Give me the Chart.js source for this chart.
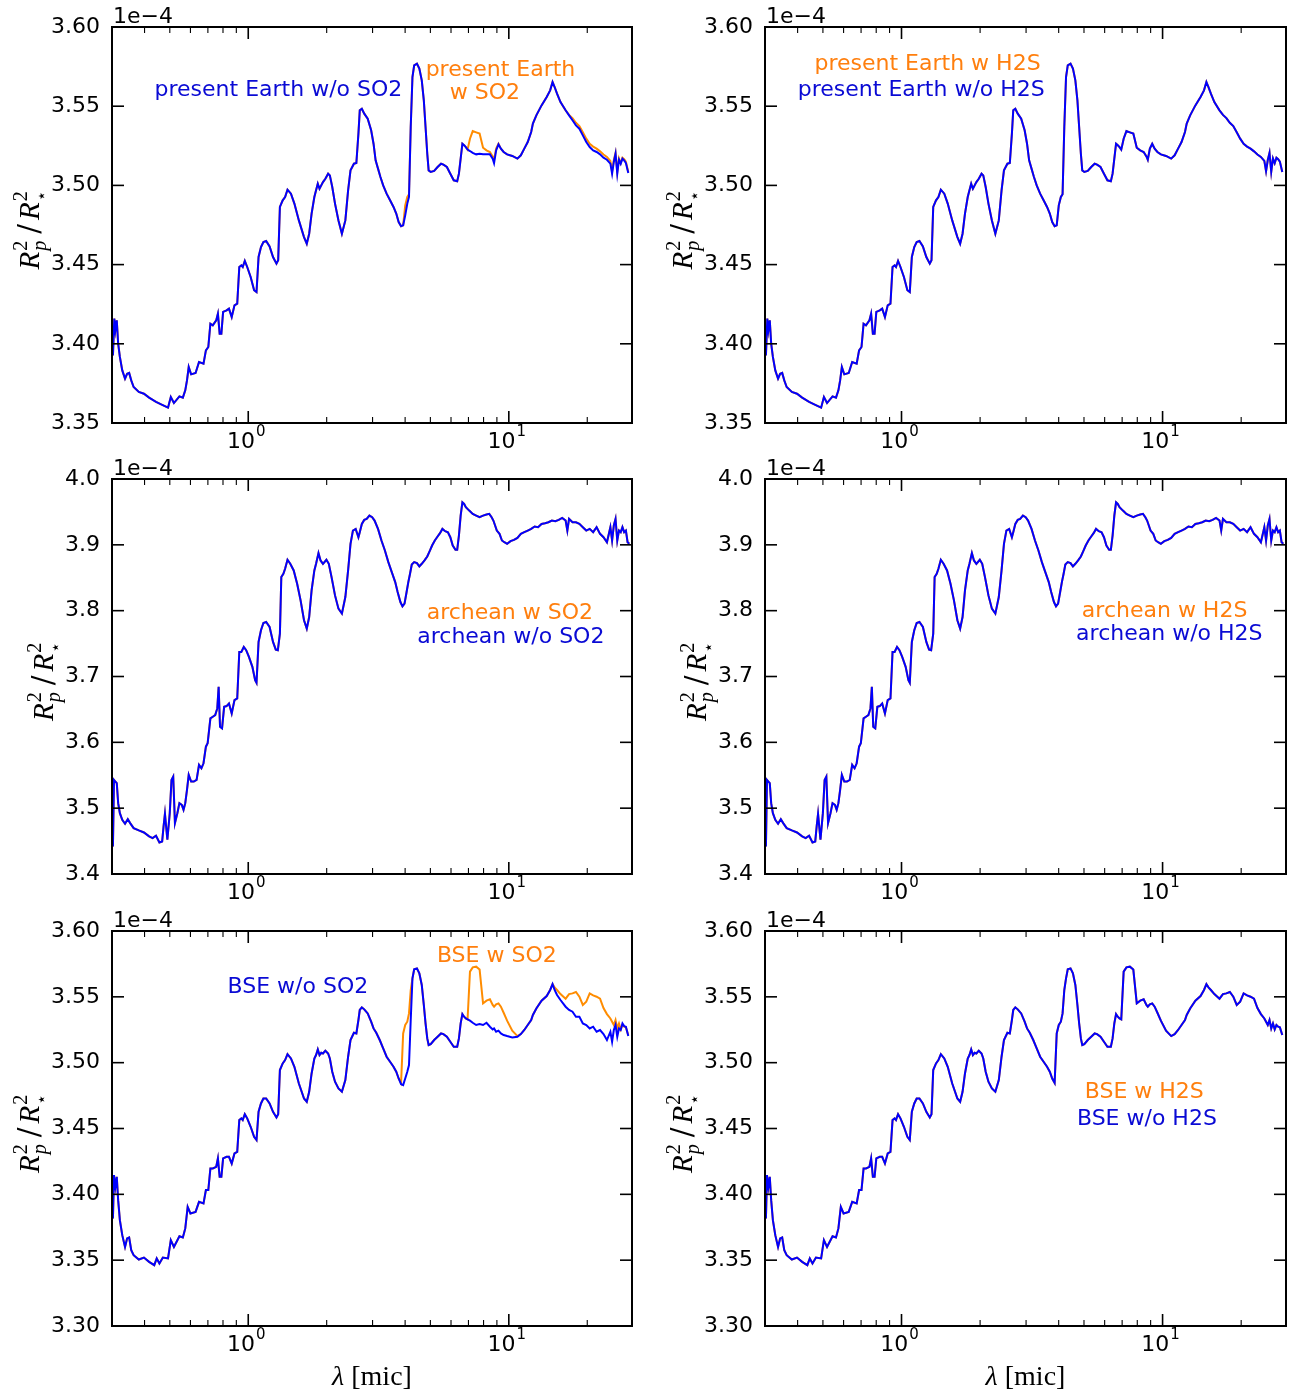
<!DOCTYPE html>
<html>
<head>
<meta charset="utf-8">
<script src="https://cdn.jsdelivr.net/npm/chart.js@4.4.1/dist/chart.umd.min.js"></script>
<style>
  html, body { margin: 0; padding: 0; background: #fff; }
  #fig { position: relative; width: 1295px; height: 1391px; overflow: hidden; background: #fff; }
  #fig canvas { position: absolute; }
</style>
</head>
<body>
<div id="fig"></div>
<script>
// all depths in units of 1e-4 (R_p^2 / R_star^2), wavelengths in micron

// ---- present Earth ----
const wlEarth = [
  0.3025, 0.3062, 0.3091, 0.3129, 0.3168, 0.3216, 0.3285, 0.3366, 0.3428, 0.3491,
  0.3556, 0.3632, 0.3802, 0.3978, 0.4164, 0.4426, 0.4631, 0.4922, 0.5044, 0.5185,
  0.5443, 0.5611, 0.5732, 0.5820, 0.5909, 0.6036, 0.6279, 0.6473, 0.6734, 0.6879,
  0.7027, 0.7157, 0.7310, 0.7536, 0.7649, 0.7767, 0.7886, 0.8008, 0.8257, 0.8434,
  0.8641, 0.8855, 0.9072, 0.9240, 0.9410, 0.9525, 0.9700, 0.9909, 1.0215, 1.0531,
  1.0758, 1.0955, 1.1191, 1.1432, 1.1714, 1.2076, 1.2448, 1.2832, 1.3028, 1.3228,
  1.3558, 1.3849, 1.4146, 1.4584, 1.5034, 1.5641, 1.6369, 1.6773, 1.7133, 1.7504,
  1.7934, 1.8209, 1.8489, 1.8772, 1.9061, 1.9354, 1.9769, 2.0257, 2.0567, 2.1009,
  2.1528, 2.2193, 2.2879, 2.3586, 2.4168, 2.4686, 2.5448, 2.5997, 2.6476, 2.6792,
  2.7286, 2.7875, 2.8737, 2.9624, 3.0259, 3.0819, 3.1480, 3.2159, 3.2948, 3.3963,
  3.5016, 3.6098, 3.6983, 3.7781, 3.8594, 3.9310, 4.0034, 4.0772, 4.1396, 4.2030,
  4.2676, 4.3333, 4.4402, 4.5354, 4.6335, 4.7187, 4.7911, 4.8646, 4.9243, 5.0147,
  5.1696, 5.3292, 5.4936, 5.6118, 5.7850, 5.9636, 6.1476, 6.3373, 6.4349, 6.5339,
  6.6345, 6.7366, 6.8403, 6.9456, 7.0946, 7.2696, 7.4941, 7.7254, 7.9638, 8.2096,
  8.4630, 8.6718, 8.7782, 8.9393, 9.1276, 9.3243, 9.5545, 9.8493, 10.309, 10.789,
  11.122, 11.466, 11.820, 12.185, 12.372, 12.754, 13.354, 13.977, 14.409, 14.719,
  14.990, 15.313, 15.787, 16.520, 17.030, 17.556, 18.098, 18.657, 19.233, 19.826,
  20.438, 21.069, 21.724, 22.395, 23.086, 23.800, 24.534, 24.910, 25.293, 25.680,
  26.074, 26.475, 26.882, 27.295, 27.714, 28.140, 28.742
];
const earthNoSO2 = [
  3.3927, 3.4159, 3.4085, 3.4148, 3.4001, 3.3917, 3.3832, 3.3780, 3.3811, 3.3816,
  3.3769, 3.3727, 3.3696, 3.3685, 3.3660, 3.3633, 3.3618, 3.3597, 3.3664, 3.3626,
  3.3668, 3.3660, 3.3706, 3.3769, 3.3853, 3.3807, 3.3816, 3.3885, 3.3875, 3.3959,
  3.3980, 3.4127, 3.4117, 3.4148, 3.4190, 3.4064, 3.4064, 3.4201, 3.4211, 3.4222,
  3.4169, 3.4243, 3.4253, 3.4485, 3.4495, 3.4485, 3.4523, 3.4485, 3.4422, 3.4338,
  3.4327, 3.4548, 3.4611, 3.4643, 3.4649, 3.4615, 3.4548, 3.4506, 3.4527, 3.4864,
  3.4906, 3.4927, 3.4973, 3.4948, 3.4885, 3.4779, 3.4674, 3.4632, 3.4695, 3.4822,
  3.4927, 3.4969, 3.5011, 3.4979, 3.5000, 3.5021, 3.5042, 3.5074, 3.5063, 3.4990,
  3.4885, 3.4779, 3.4695, 3.4779, 3.4969, 3.5095, 3.5137, 3.5141, 3.5327, 3.5474,
  3.5484, 3.5453, 3.5421, 3.5348, 3.5263, 3.5158, 3.5106, 3.5053, 3.5000, 3.4948,
  3.4906, 3.4864, 3.4822, 3.4769, 3.4742, 3.4748, 3.4811, 3.4885, 3.4927, 3.5369,
  3.5684, 3.5758, 3.5769, 3.5737, 3.5663, 3.5537, 3.5369, 3.5200, 3.5095, 3.5085,
  3.5091, 3.5116, 3.5137, 3.5131, 3.5116, 3.5074, 3.5032, 3.5026, 3.5074, 3.5169,
  3.5263, 3.5253, 3.5242, 3.5226, 3.5217, 3.5205, 3.5196, 3.5200, 3.5196, 3.5196,
  3.5196, 3.5169, 3.5141, 3.5221, 3.5259, 3.5232, 3.5211, 3.5196, 3.5186, 3.5169,
  3.5190, 3.5232, 3.5274, 3.5337, 3.5390, 3.5442, 3.5505, 3.5558, 3.5600, 3.5653,
  3.5621, 3.5579, 3.5526, 3.5474, 3.5442, 3.5411, 3.5379, 3.5358, 3.5316, 3.5274,
  3.5242, 3.5221, 3.5211, 3.5196, 3.5175, 3.5162, 3.5137, 3.5074, 3.5148, 3.5200,
  3.5074, 3.5162, 3.5137, 3.5169, 3.5158, 3.5141, 3.5078
];
// with SO2 (this is also the "w/o H2S" reference of the right panel)
const earthSO2 = [
  3.3927, 3.4159, 3.4085, 3.4148, 3.4001, 3.3917, 3.3832, 3.3780, 3.3811, 3.3816,
  3.3769, 3.3727, 3.3696, 3.3685, 3.3660, 3.3633, 3.3618, 3.3597, 3.3664, 3.3626,
  3.3668, 3.3660, 3.3706, 3.3769, 3.3853, 3.3807, 3.3816, 3.3885, 3.3875, 3.3959,
  3.3980, 3.4127, 3.4117, 3.4148, 3.4190, 3.4064, 3.4064, 3.4201, 3.4211, 3.4222,
  3.4169, 3.4243, 3.4253, 3.4485, 3.4495, 3.4485, 3.4523, 3.4485, 3.4422, 3.4338,
  3.4327, 3.4548, 3.4611, 3.4643, 3.4649, 3.4615, 3.4548, 3.4506, 3.4527, 3.4864,
  3.4906, 3.4927, 3.4973, 3.4948, 3.4885, 3.4779, 3.4674, 3.4632, 3.4695, 3.4822,
  3.4927, 3.4969, 3.5011, 3.4979, 3.5000, 3.5021, 3.5042, 3.5074, 3.5063, 3.4990,
  3.4885, 3.4779, 3.4695, 3.4779, 3.4969, 3.5095, 3.5137, 3.5141, 3.5327, 3.5474,
  3.5484, 3.5453, 3.5421, 3.5348, 3.5263, 3.5158, 3.5106, 3.5053, 3.5000, 3.4948,
  3.4906, 3.4864, 3.4822, 3.4769, 3.4742, 3.4748, 3.4874, 3.4927, 3.4944, 3.5369,
  3.5684, 3.5758, 3.5769, 3.5737, 3.5663, 3.5537, 3.5369, 3.5200, 3.5095, 3.5085,
  3.5091, 3.5116, 3.5137, 3.5131, 3.5116, 3.5074, 3.5032, 3.5026, 3.5074, 3.5169,
  3.5263, 3.5253, 3.5242, 3.5226, 3.5295, 3.5343, 3.5335, 3.5327, 3.5238, 3.5221,
  3.5211, 3.5183, 3.5162, 3.5232, 3.5263, 3.5232, 3.5211, 3.5196, 3.5186, 3.5169,
  3.5190, 3.5232, 3.5274, 3.5337, 3.5390, 3.5442, 3.5505, 3.5558, 3.5600, 3.5653,
  3.5621, 3.5579, 3.5526, 3.5474, 3.5445, 3.5425, 3.5395, 3.5375, 3.5335, 3.5295,
  3.5262, 3.5245, 3.5232, 3.5215, 3.5195, 3.5180, 3.5155, 3.5090, 3.5160, 3.5205,
  3.5085, 3.5170, 3.5140, 3.5175, 3.5165, 3.5150, 3.5085
];

// ---- archean (with and without sulfur species overlap completely) ----
const wlArchean = [
  0.3025, 0.3053, 0.3091, 0.3129, 0.3168, 0.3216, 0.3285, 0.3366, 0.3449, 0.3522,
  0.3632, 0.3802, 0.3978, 0.4164, 0.4294, 0.4426, 0.4561, 0.4673, 0.4732, 0.4790,
  0.4893, 0.4998, 0.5075, 0.5153, 0.5232, 0.5345, 0.5443, 0.5559, 0.5645, 0.5732,
  0.5820, 0.5909, 0.6036, 0.6183, 0.6335, 0.6473, 0.6611, 0.6734, 0.6879, 0.6985,
  0.7157, 0.7310, 0.7468, 0.7605, 0.7698, 0.7793, 0.7934, 0.8081, 0.8257, 0.8434,
  0.8641, 0.8855, 0.9072, 0.9240, 0.9410, 0.9612, 0.9819, 1.0061, 1.0372, 1.0627,
  1.0758, 1.0955, 1.1191, 1.1432, 1.1714, 1.2076, 1.2448, 1.2755, 1.2989, 1.3228,
  1.3393, 1.3640, 1.3849, 1.4146, 1.4496, 1.4943, 1.5405, 1.5880, 1.6369, 1.6773,
  1.7133, 1.7504, 1.7934, 1.8209, 1.8604, 1.8945, 1.9354, 1.9950, 2.0378, 2.0879,
  2.1528, 2.2193, 2.2879, 2.3586, 2.4168, 2.4686, 2.5220, 2.5843, 2.6476, 2.6792,
  2.7286, 2.7875, 2.8473, 2.9174, 2.9895, 3.0536, 3.1480, 3.2451, 3.3454, 3.4487,
  3.5550, 3.6649, 3.7436, 3.8363, 3.9072, 3.9790, 4.0525, 4.1146, 4.1776, 4.2420,
  4.3333, 4.4402, 4.5354, 4.6335, 4.7478, 4.8646, 4.9693, 5.0764, 5.2000, 5.3292,
  5.4434, 5.5603, 5.6980, 5.8385, 5.9636, 6.0928, 6.2420, 6.3373, 6.4349, 6.5339,
  6.6345, 6.7366, 6.8403, 7.0487, 7.2696, 7.4941, 7.7254, 7.9638, 8.2096, 8.4115,
  8.5903, 8.7247, 8.8582, 8.9938, 9.2122, 9.4111, 9.6130, 9.8493, 10.153, 10.467,
  10.789, 11.122, 11.466, 11.820, 12.185, 12.564, 12.949, 13.354, 13.765, 14.190,
  14.630, 15.081, 15.545, 16.029, 16.520, 16.773, 17.030, 17.556, 18.098, 18.657,
  19.233, 19.826, 20.438, 21.069, 21.724, 22.395, 23.086, 23.800, 24.534, 24.910,
  25.293, 25.680, 26.074, 26.475, 26.882, 27.295, 27.714, 28.140, 28.564, 29.004
];
const archean = [
  3.4419, 3.5429, 3.5404, 3.5379, 3.5076, 3.4924, 3.4823, 3.4763, 3.4833, 3.4773,
  3.4697, 3.4662, 3.4631, 3.4571, 3.4545, 3.4581, 3.4480, 3.4495, 3.4722, 3.4914,
  3.4520, 3.4924, 3.5429, 3.5480, 3.4773, 3.4924, 3.5076, 3.5051, 3.4975, 3.5076,
  3.5278, 3.5505, 3.5404, 3.5404, 3.5429, 3.5657, 3.5606, 3.5682, 3.5934, 3.5985,
  3.6364, 3.6389, 3.6414, 3.6515, 3.6843, 3.6237, 3.6212, 3.6540, 3.6551, 3.6591,
  3.6439, 3.6641, 3.6667, 3.7374, 3.7374, 3.7449, 3.7399, 3.7298, 3.7146, 3.6944,
  3.6904, 3.7525, 3.7702, 3.7813, 3.7828, 3.7753, 3.7525, 3.7409, 3.7399, 3.7652,
  3.8510, 3.8561, 3.8636, 3.8773, 3.8712, 3.8611, 3.8409, 3.8157, 3.7854, 3.7727,
  3.7904, 3.8308, 3.8611, 3.8712, 3.8874, 3.8763, 3.8712, 3.8773, 3.8712, 3.8510,
  3.8232, 3.8030, 3.7955, 3.8207, 3.8611, 3.9015, 3.9217, 3.9242, 3.9116, 3.9192,
  3.9318, 3.9379, 3.9394, 3.9444, 3.9419, 3.9369, 3.9242, 3.9066, 3.8914, 3.8737,
  3.8586, 3.8434, 3.8283, 3.8131, 3.8066, 3.8106, 3.8283, 3.8434, 3.8561, 3.8702,
  3.8737, 3.8722, 3.8672, 3.8712, 3.8763, 3.8823, 3.8904, 3.8990, 3.9066, 3.9126,
  3.9177, 3.9242, 3.9207, 3.9192, 3.9116, 3.8990, 3.8924, 3.8924, 3.9141, 3.9444,
  3.9646, 3.9621, 3.9571, 3.9520, 3.9470, 3.9444, 3.9419, 3.9444, 3.9460, 3.9470,
  3.9419, 3.9369, 3.9293, 3.9217, 3.9167, 3.9066, 3.9040, 3.9015, 3.9056, 3.9076,
  3.9106, 3.9167, 3.9192, 3.9217, 3.9242, 3.9278, 3.9268, 3.9318, 3.9328, 3.9343,
  3.9369, 3.9359, 3.9379, 3.9409, 3.9369, 3.9217, 3.9394, 3.9343, 3.9343, 3.9318,
  3.9268, 3.9217, 3.9242, 3.9192, 3.9268, 3.9167, 3.9116, 3.9040, 3.9268, 3.9066,
  3.9293, 3.9394, 3.9066, 3.9217, 3.9192, 3.9268, 3.9192, 3.9217, 3.9040, 3.9015
];

// ---- BSE ----
const wlBSE = [
  0.3025, 0.3053, 0.3091, 0.3129, 0.3168, 0.3216, 0.3285, 0.3366, 0.3428, 0.3491,
  0.3556, 0.3632, 0.3802, 0.3978, 0.4164, 0.4358, 0.4454, 0.4561, 0.4702, 0.4922,
  0.5044, 0.5185, 0.5443, 0.5611, 0.5732, 0.5855, 0.5999, 0.6279, 0.6473, 0.6734,
  0.6879, 0.7027, 0.7157, 0.7310, 0.7536, 0.7649, 0.7767, 0.7886, 0.8008, 0.8257,
  0.8434, 0.8641, 0.8855, 0.9072, 0.9240, 0.9410, 0.9525, 0.9700, 0.9909, 1.0215,
  1.0531, 1.0758, 1.0955, 1.1191, 1.1432, 1.1714, 1.2076, 1.2448, 1.2832, 1.3028,
  1.3228, 1.3558, 1.3849, 1.4146, 1.4584, 1.5034, 1.5641, 1.6369, 1.6773, 1.7133,
  1.7504, 1.7934, 1.8209, 1.8489, 1.8772, 1.9061, 1.9354, 1.9769, 2.0257, 2.0567,
  2.1009, 2.1528, 2.2193, 2.2879, 2.3586, 2.4168, 2.4686, 2.5448, 2.5997, 2.6476,
  2.6792, 2.7286, 2.7875, 2.8737, 2.9624, 3.0259, 3.0997, 3.1959, 3.2948, 3.3963,
  3.5016, 3.6098, 3.6983, 3.7781, 3.8594, 3.9310, 4.0034, 4.0772, 4.1396, 4.2030,
  4.2676, 4.3333, 4.4402, 4.5354, 4.6335, 4.7187, 4.7911, 4.8646, 4.9243, 5.0147,
  5.1696, 5.3292, 5.4936, 5.6118, 5.7850, 5.9636, 6.1476, 6.3373, 6.4349, 6.5339,
  6.6345, 6.7366, 6.8403, 6.9456, 7.0946, 7.2696, 7.4941, 7.7254, 7.9638, 8.2096,
  8.4630, 8.6718, 8.7782, 8.9393, 9.1276, 9.3243, 9.5545, 9.8493, 10.309, 10.789,
  11.122, 11.466, 11.820, 12.185, 12.372, 12.754, 13.354, 13.977, 14.409, 14.719,
  14.990, 15.313, 15.787, 16.520, 17.030, 17.556, 18.098, 18.657, 19.233, 19.826,
  20.438, 21.069, 21.724, 22.395, 23.086, 23.800, 24.534, 24.910, 25.293, 25.680,
  26.074, 26.475, 26.882, 27.295, 27.714, 28.140, 28.742
];
const bseNoSO2 = [
  3.3817, 3.4146, 3.4057, 3.4133, 3.3956, 3.3804, 3.3690, 3.3601, 3.3665, 3.3672,
  3.3576, 3.3538, 3.3505, 3.3520, 3.3487, 3.3462, 3.3513, 3.3475, 3.3520, 3.3513,
  3.3652, 3.3601, 3.3682, 3.3672, 3.3741, 3.3905, 3.3855, 3.3867, 3.3943, 3.3931,
  3.4032, 3.4032, 3.4197, 3.4197, 3.4209, 3.4273, 3.4133, 3.4133, 3.4273, 3.4285,
  3.4285, 3.4234, 3.4311, 3.4323, 3.4564, 3.4577, 3.4564, 3.4609, 3.4577, 3.4513,
  3.4437, 3.4412, 3.4627, 3.4690, 3.4728, 3.4728, 3.4690, 3.4627, 3.4584, 3.4609,
  3.4944, 3.4994, 3.5020, 3.5065, 3.5032, 3.4969, 3.4842, 3.4728, 3.4703, 3.4779,
  3.4918, 3.5032, 3.5058, 3.5101, 3.5058, 3.5075, 3.5070, 3.5091, 3.5070, 3.5032,
  3.4931, 3.4855, 3.4804, 3.4779, 3.4868, 3.5045, 3.5172, 3.5227, 3.5222, 3.5324,
  3.5400, 3.5420, 3.5405, 3.5374, 3.5311, 3.5260, 3.5227, 3.5172, 3.5108, 3.5045,
  3.5007, 3.4969, 3.4931, 3.4880, 3.4837, 3.4830, 3.4880, 3.4931, 3.4982, 3.5324,
  3.5640, 3.5709, 3.5716, 3.5678, 3.5590, 3.5438, 3.5298, 3.5184, 3.5134, 3.5141,
  3.5172, 3.5197, 3.5222, 3.5217, 3.5197, 3.5159, 3.5121, 3.5121, 3.5184, 3.5298,
  3.5369, 3.5349, 3.5336, 3.5329, 3.5319, 3.5303, 3.5286, 3.5293, 3.5286, 3.5303,
  3.5273, 3.5253, 3.5260, 3.5235, 3.5243, 3.5222, 3.5210, 3.5202, 3.5192, 3.5197,
  3.5217, 3.5248, 3.5286, 3.5324, 3.5362, 3.5412, 3.5471, 3.5506, 3.5552, 3.5597,
  3.5552, 3.5514, 3.5476, 3.5425, 3.5400, 3.5387, 3.5349, 3.5349, 3.5298, 3.5286,
  3.5260, 3.5273, 3.5235, 3.5248, 3.5217, 3.5172, 3.5235, 3.5159, 3.5248, 3.5286,
  3.5197, 3.5260, 3.5248, 3.5298, 3.5278, 3.5273, 3.5202
];
// with SO2 (also the "w/o H2S" reference of the right panel)
const bseSO2 = [
  3.3817, 3.4146, 3.4057, 3.4133, 3.3956, 3.3804, 3.3690, 3.3601, 3.3665, 3.3672,
  3.3576, 3.3538, 3.3505, 3.3520, 3.3487, 3.3462, 3.3513, 3.3475, 3.3520, 3.3513,
  3.3652, 3.3601, 3.3682, 3.3672, 3.3741, 3.3905, 3.3855, 3.3867, 3.3943, 3.3931,
  3.4032, 3.4032, 3.4197, 3.4197, 3.4209, 3.4273, 3.4133, 3.4133, 3.4273, 3.4285,
  3.4285, 3.4234, 3.4311, 3.4323, 3.4564, 3.4577, 3.4564, 3.4609, 3.4577, 3.4513,
  3.4437, 3.4412, 3.4627, 3.4690, 3.4728, 3.4728, 3.4690, 3.4627, 3.4584, 3.4609,
  3.4944, 3.4994, 3.5020, 3.5065, 3.5032, 3.4969, 3.4842, 3.4728, 3.4703, 3.4779,
  3.4918, 3.5032, 3.5058, 3.5101, 3.5058, 3.5075, 3.5070, 3.5091, 3.5070, 3.5032,
  3.4931, 3.4855, 3.4804, 3.4779, 3.4868, 3.5045, 3.5172, 3.5227, 3.5222, 3.5324,
  3.5400, 3.5420, 3.5405, 3.5374, 3.5311, 3.5260, 3.5227, 3.5172, 3.5108, 3.5045,
  3.5007, 3.4969, 3.4931, 3.4880, 3.4847, 3.5222, 3.5286, 3.5311, 3.5374, 3.5552,
  3.5640, 3.5709, 3.5716, 3.5678, 3.5590, 3.5438, 3.5298, 3.5184, 3.5134, 3.5141,
  3.5172, 3.5197, 3.5222, 3.5217, 3.5197, 3.5159, 3.5121, 3.5121, 3.5184, 3.5298,
  3.5369, 3.5349, 3.5336, 3.5329, 3.5691, 3.5724, 3.5729, 3.5707, 3.5450, 3.5471,
  3.5481, 3.5438, 3.5425, 3.5443, 3.5450, 3.5425, 3.5379, 3.5319, 3.5243, 3.5202,
  3.5217, 3.5248, 3.5286, 3.5324, 3.5362, 3.5412, 3.5471, 3.5506, 3.5552, 3.5597,
  3.5572, 3.5552, 3.5521, 3.5486, 3.5521, 3.5526, 3.5537, 3.5501, 3.5438, 3.5463,
  3.5526, 3.5511, 3.5501, 3.5486, 3.5415, 3.5369, 3.5336, 3.5311, 3.5286, 3.5324,
  3.5260, 3.5298, 3.5253, 3.5286, 3.5273, 3.5268, 3.5210
];

const xMajorTicks = [1, 10];
const xMinorTicks = [0.4, 0.5, 0.6, 0.7, 0.8, 0.9, 2, 3, 4, 5, 6, 7, 8, 9, 20];

const BLUE = "#0000ff";
const ORANGE = "#ff8c00";
const TEXT_BLUE = "#0a0ad4";
const TEXT_ORANGE = "#ff7f0e";

const colLeft = [112, 765], colWidth = [520, 521];
const rowTop = [27, 479, 931], rowHeight = [396, 395, 395];

const panels = [
  { row: 0, col: 0, wl: wlEarth, blue: earthNoSO2, orange: earthSO2, yMin: 3.35, yMax: 3.60, step: 0.05, dec: 2,
    notes: [
      { text: "present Earth w/o SO2", color: TEXT_BLUE, fx: 0.320, fy: 0.1755 },
      { text: "present Earth", color: TEXT_ORANGE, fx: 0.747, fy: 0.1237 },
      { text: "w SO2", color: TEXT_ORANGE, fx: 0.717, fy: 0.182 }
    ] },
  { row: 0, col: 1, wl: wlEarth, blue: earthSO2, orange: earthSO2, yMin: 3.35, yMax: 3.60, step: 0.05, dec: 2,
    notes: [
      { text: "present Earth w H2S", color: TEXT_ORANGE, fx: 0.312, fy: 0.1086 },
      { text: "present Earth w/o H2S", color: TEXT_BLUE, fx: 0.300, fy: 0.174 }
    ] },
  { row: 1, col: 0, wl: wlArchean, blue: archean, orange: archean, yMin: 3.4, yMax: 4.0, step: 0.1, dec: 1,
    notes: [
      { text: "archean w SO2", color: TEXT_ORANGE, fx: 0.765, fy: 0.355 },
      { text: "archean w/o SO2", color: TEXT_BLUE, fx: 0.767, fy: 0.414 }
    ] },
  { row: 1, col: 1, wl: wlArchean, blue: archean, orange: archean, yMin: 3.4, yMax: 4.0, step: 0.1, dec: 1,
    notes: [
      { text: "archean w H2S", color: TEXT_ORANGE, fx: 0.767, fy: 0.349 },
      { text: "archean w/o H2S", color: TEXT_BLUE, fx: 0.776, fy: 0.408 }
    ] },
  { row: 2, col: 0, wl: wlBSE, blue: bseNoSO2, orange: bseSO2, yMin: 3.30, yMax: 3.60, step: 0.05, dec: 2,
    notes: [
      { text: "BSE w SO2", color: TEXT_ORANGE, fx: 0.740, fy: 0.0777 },
      { text: "BSE w/o SO2", color: TEXT_BLUE, fx: 0.3575, fy: 0.1562 }
    ] },
  { row: 2, col: 1, wl: wlBSE, blue: bseSO2, orange: bseSO2, yMin: 3.30, yMax: 3.60, step: 0.05, dec: 2,
    notes: [
      { text: "BSE w H2S", color: TEXT_ORANGE, fx: 0.728, fy: 0.422 },
      { text: "BSE w/o H2S", color: TEXT_BLUE, fx: 0.733, fy: 0.491 }
    ] }
];

const TICK_FONT = '22px "DejaVu Sans"';

function drawYTitle(ctx, bx, cy) {
  const fBig = 'italic 29px "Liberation Serif"';
  const fScr = 'italic 20px "Liberation Serif"';
  const fNum = '20px "Liberation Serif"';
  const fUp = '29px "DejaVu Serif"';
  const fStar = '17px "DejaVu Sans"';
  ctx.save();
  ctx.translate(bx, cy);
  ctx.rotate(-Math.PI / 2);
  ctx.fillStyle = "#000";
  ctx.textAlign = "left";
  ctx.textBaseline = "alphabetic";
  const w = (t, f) => { ctx.font = f; return ctx.measureText(t).width; };
  const wR = w("R", fBig);
  const wS1 = Math.max(w("2", fNum), w("p", fScr));
  const wSl = w("/", fUp);
  const wS2 = Math.max(w("2", fNum), w("\u22c6", fStar));
  const total = wR + 1 + wS1 + 7 + wSl + 4 + wR + 1 + wS2;
  let x = -total / 2;
  const put = (t, f, dy) => { ctx.font = f; ctx.fillText(t, x, dy); };
  put("R", fBig, 0); x += wR + 1;
  put("2", fNum, -12); put("p", fScr, 7); x += wS1 + 7;
  put("/", fUp, 0); x += wSl + 4;
  put("R", fBig, 0); x += wR + 1;
  put("2", fNum, -12); put("\u22c6", fStar, 8);
  ctx.restore();
}

const figureDecor = {
  id: "figureDecor",
  afterDraw(chart, args, opts) {
    const p = opts.panel;
    const { ctx, chartArea: a } = chart;
    const xs = chart.scales.x, ys = chart.scales.y;
    const seg = (x1, y1, x2, y2) => { ctx.beginPath(); ctx.moveTo(x1, y1); ctx.lineTo(x2, y2); ctx.stroke(); };
    ctx.save();
    ctx.strokeStyle = "#000";

    // inward tick marks on all four sides
    ctx.lineWidth = 1.6;
    ys.ticks.forEach(t => {
      const y = ys.getPixelForValue(t.value);
      seg(a.left, y, a.left + 12, y);
      seg(a.right, y, a.right - 12, y);
    });
    xMajorTicks.forEach(v => {
      const x = xs.getPixelForValue(v);
      seg(x, a.bottom, x, a.bottom - 12);
      seg(x, a.top, x, a.top + 12);
    });
    ctx.lineWidth = 1.1;
    xMinorTicks.forEach(v => {
      const x = xs.getPixelForValue(v);
      seg(x, a.bottom, x, a.bottom - 6);
      seg(x, a.top, x, a.top + 6);
    });

    // frame
    ctx.lineWidth = 2;
    ctx.strokeRect(a.left, a.top, a.right - a.left, a.bottom - a.top);

    ctx.fillStyle = "#000";
    ctx.textBaseline = "alphabetic";

    // x tick labels 10^0, 10^1
    xMajorTicks.forEach((v, i) => {
      const x = xs.getPixelForValue(v) - 2;
      ctx.font = TICK_FONT;
      const wb = ctx.measureText("10").width;
      ctx.font = '15px "DejaVu Sans"';
      const we = ctx.measureText(String(i)).width;
      const x0 = x - (wb + we + 1) / 2;
      ctx.font = TICK_FONT;
      ctx.textAlign = "left";
      ctx.fillText("10", x0, a.bottom + 25);
      ctx.font = '15px "DejaVu Sans"';
      ctx.fillText(String(i), x0 + wb + 1, a.bottom + 13);
    });

    // offset text
    ctx.font = TICK_FONT;
    ctx.textAlign = "left";
    ctx.fillText("1e\u22124", a.left + 1, a.top - 4);

    // annotations
    ctx.textAlign = "center";
    p.notes.forEach(n => {
      ctx.fillStyle = n.color;
      ctx.font = TICK_FONT;
      ctx.fillText(n.text, a.left + n.fx * (a.right - a.left), a.top + n.fy * (a.bottom - a.top));
    });

    // y axis title, placed left of the widest tick label
    ctx.font = TICK_FONT;
    let lw = 0;
    ys.ticks.forEach(t => { lw = Math.max(lw, ctx.measureText(t.value.toFixed(p.dec)).width); });
    drawYTitle(ctx, a.left - 4 - lw - 20, (a.top + a.bottom) / 2 + 5);

    // x axis title on the bottom row
    if (p.row === 2) {
      const cx = (a.left + a.right) / 2;
      ctx.fillStyle = "#000";
      ctx.textAlign = "left";
      ctx.font = 'italic 28px "Liberation Serif"';
      const w1 = ctx.measureText("\u03bb").width;
      ctx.font = '28px "Liberation Serif"';
      const w2 = ctx.measureText(" [mic]").width;
      const x0 = cx - (w1 + w2) / 2;
      ctx.font = 'italic 28px "Liberation Serif"';
      ctx.fillText("\u03bb", x0, a.bottom + 59);
      ctx.font = '28px "Liberation Serif"';
      ctx.fillText(" [mic]", x0 + w1, a.bottom + 59);
    }
    ctx.restore();
  }
};

const fig = document.getElementById("fig");
const toPoints = (xs, ys) => xs.map((x, i) => ({ x: x, y: ys[i] }));

panels.forEach(p => {
  const left = colLeft[p.col], top = rowTop[p.row];
  const w = colWidth[p.col], h = rowHeight[p.row];
  const bottomH = p.row === 2 ? 75 : 40;
  const canvas = document.createElement("canvas");
  canvas.width = 112 + w + 8;
  canvas.height = 27 + h + bottomH;
  canvas.style.left = (left - 112) + "px";
  canvas.style.top = (top - 27) + "px";
  canvas.style.width = canvas.width + "px";
  canvas.style.height = canvas.height + "px";
  fig.appendChild(canvas);

  new Chart(canvas.getContext("2d"), {
    type: "line",
    data: {
      datasets: [
        { data: toPoints(p.wl, p.blue), borderColor: BLUE, borderWidth: 2, pointRadius: 0, tension: 0, fill: false },
        { data: toPoints(p.wl, p.orange), borderColor: ORANGE, borderWidth: 2, pointRadius: 0, tension: 0, fill: false }
      ]
    },
    options: {
      responsive: false,
      animation: false,
      devicePixelRatio: 1,
      layout: { padding: { top: 27, right: 8, left: 0, bottom: 0 } },
      plugins: {
        legend: { display: false },
        tooltip: { enabled: false },
        figureDecor: { panel: p }
      },
      scales: {
        x: {
          type: "logarithmic",
          min: 0.3,
          max: 29.7,
          grid: { display: false },
          border: { display: false },
          ticks: { display: false },
          afterFit: s => { s.height = bottomH; }
        },
        y: {
          min: p.yMin,
          max: p.yMax,
          grid: { display: false },
          border: { display: false },
          ticks: {
            stepSize: p.step,
            padding: 4,
            color: "#000",
            font: { family: "DejaVu Sans", size: 22 },
            callback: v => Number(v).toFixed(p.dec)
          },
          afterFit: s => { s.width = 112; }
        }
      }
    },
    plugins: [figureDecor]
  });
});
</script>
</body>
</html>
